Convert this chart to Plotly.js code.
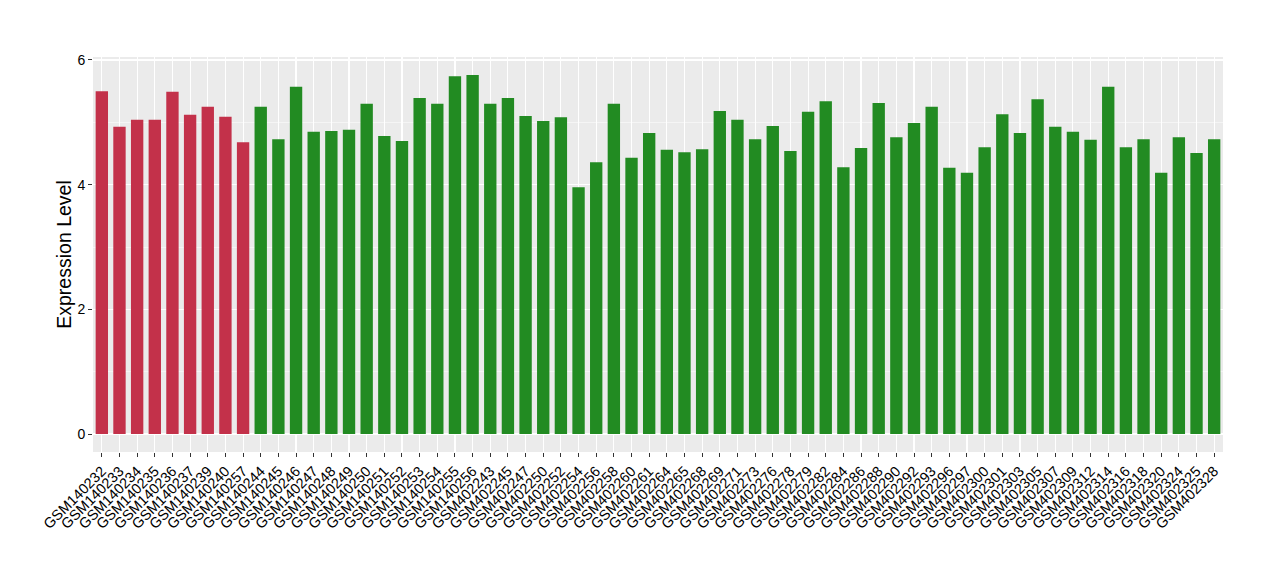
<!DOCTYPE html>
<html>
<head>
<meta charset="utf-8">
<script src="https://cdn.plot.ly/plotly-3.0.1.min.js"></script>
<style>html,body{margin:0;padding:0;background:#fff;}#chart{width:1280px;height:580px;}</style>
</head>
<body>
<div id="chart"></div>
<script>
const groupA_samples = ["GSM140232","GSM140233","GSM140234","GSM140235","GSM140236","GSM140237","GSM140239","GSM140240","GSM140257"];
const groupA_values = [5.50,4.93,5.04,5.04,5.49,5.12,5.25,5.09,4.68];

const groupB_samples = ["GSM140244","GSM140245","GSM140246","GSM140247","GSM140248","GSM140249","GSM140250","GSM140251","GSM140252","GSM140253","GSM140254","GSM140255","GSM140256",
"GSM402243","GSM402245","GSM402247","GSM402250","GSM402252","GSM402254","GSM402256","GSM402258","GSM402260","GSM402261","GSM402264","GSM402265","GSM402268","GSM402269","GSM402271","GSM402273","GSM402276","GSM402278","GSM402279","GSM402282","GSM402284","GSM402286","GSM402288","GSM402290","GSM402292","GSM402293","GSM402296","GSM402297",
"GSM402300","GSM402301","GSM402303","GSM402305","GSM402307","GSM402309","GSM402312","GSM402314","GSM402316","GSM402318","GSM402320","GSM402324","GSM402325","GSM402328"];
const groupB_values = [5.25,4.73,5.57,4.85,4.86,4.88,5.30,4.78,4.70,5.39,5.30,5.74,5.76,
5.30,5.39,5.10,5.02,5.08,3.96,4.36,5.30,4.43,4.83,4.56,4.52,4.57,5.18,5.04,4.73,4.94,4.54,5.17,5.34,4.28,4.59,5.31,4.76,4.99,5.25,4.27,4.19,
4.60,5.13,4.83,5.37,4.93,4.85,4.72,5.57,4.60,4.73,4.19,4.76,4.51,4.73];

const yTicks = [0,2,4,6];
const allSamples = groupA_samples.concat(groupB_samples);

const traces = [
  {type:'bar', x:groupA_samples, y:groupA_values, marker:{color:'#C3314A'}, hoverinfo:'x+y', showlegend:false},
  {type:'bar', x:groupB_samples, y:groupB_values, marker:{color:'#228B22'}, hoverinfo:'x+y', showlegend:false}
];

const layout = {
  width:1280, height:580,
  margin:{l:93, r:57, t:57, b:128},
  paper_bgcolor:'#ffffff',
  plot_bgcolor:'#EBEBEB',
  barmode:'overlay',
  bargap:0.3,
  font:{family:'Liberation Sans, Arial, sans-serif', color:'#000000'},
  xaxis:{
    type:'category',
    categoryorder:'array',
    categoryarray:allSamples,
    tickangle:-45,
    tickfont:{size:14.5, color:'#000000'},
    showgrid:true, gridcolor:'#ffffff', gridwidth:1.1,
    ticks:'outside', ticklen:4, tickwidth:1, tickcolor:'#333333',
    zeroline:false, showline:false,
    automargin:false
  },
  yaxis:{
    range:[-0.288, 6.048],
    tickvals:yTicks,
    ticktext:yTicks.map(String),
    tickfont:{size:14, color:'#000000'},
    showgrid:true, gridcolor:'#ffffff', gridwidth:1.1,
    minor:{dtick:1, tick0:0, showgrid:true, gridcolor:'#ffffff', gridwidth:0.5, ticks:''},
    ticks:'outside', ticklen:4, tickwidth:1, tickcolor:'#333333',
    zeroline:false, showline:false,
    automargin:false,
    title:{text:'Expression Level', font:{size:19.5, color:'#000000'}, standoff:0}
  }
};

Plotly.newPlot('chart', traces, layout, {displayModeBar:false, staticPlot:true});
</script>
</body>
</html>
